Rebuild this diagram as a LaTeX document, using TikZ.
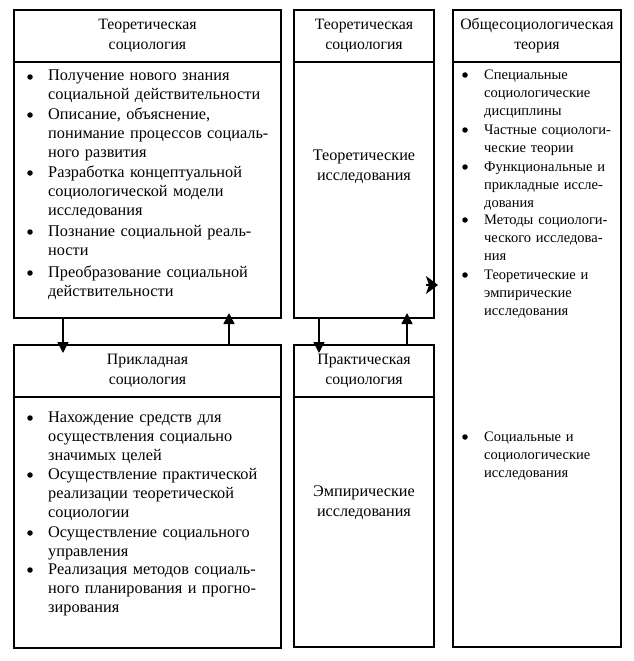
\documentclass[tikz,border=0pt]{standalone}
\usepackage{fontspec}
\setmainfont{Liberation Serif}
\usetikzlibrary{arrows.meta, positioning}

\begin{document}
\begin{tikzpicture}[x=1pt, y=-1pt,
  box/.style={draw, line width=1.5pt, inner sep=0pt, outer sep=0pt},
  head/.style={box, align=center, font=\fontsize{15.8}{20}\selectfont},
  midtext/.style={align=center, font=\fontsize{16.2}{20}\selectfont},
  item/.style={anchor=base west, inner sep=0pt, align=left, text width=300pt, font=\fontsize{16.3}{19}\selectfont},
  itemsm/.style={item, text width=200pt, font=\fontsize{14.5}{18}\selectfont},
  dot/.style={circle, fill, inner sep=0pt, minimum size=5.5pt},
  arr/.style={line width=1.5pt, -{Triangle[width=11pt,length=11pt]}},
  arrside/.style={line width=1.5pt, -{Stealth[width=18pt,length=12pt,inset=3pt]}}
]
\useasboundingbox (0,0) rectangle (634,661);

% Теоретическая социология (слева)
\node[head, minimum width=267pt, minimum height=52pt] (tsHead) at (147.5,36) {Теоретическая\\социология};
\node[box, minimum width=267pt, minimum height=256pt, below=0pt of tsHead] (tsBody) {};

\node[item] (ts1) at (48,81) {Получение нового знания\\социальной действительности};
\node[item] (ts2) at (48,119) {Описание, объяснение,\\понимание процессов социаль-\\ного развития};
\node[item] (ts3) at (48,177) {Разработка концептуальной\\социологической модели\\исследования};
\node[item] (ts4) at (48,236) {Познание социальной реаль-\\ности};
\node[item] (ts5) at (48,277) {Преобразование социальной\\действительности};
\foreach \i in {1,...,5}
  \node[dot] (ts\i dot) at ([xshift=-18pt, yshift=4pt]ts\i.base west) {};

% Прикладная социология (слева внизу)
\node[head, minimum width=267pt, minimum height=52pt] (psHead) at (147.5,371) {Прикладная\\социология};
\node[box, minimum width=267pt, minimum height=251pt, below=0pt of psHead] (psBody) {};

\node[item] (ps1) at (48,422) {Нахождение средств для\\осуществления социально\\значимых целей};
\node[item] (ps2) at (48,479) {Осуществление практической\\реализации теоретической\\социологии};
\node[item] (ps3) at (48,537) {Осуществление социального\\управления};
\node[item] (ps4) at (48,574) {Реализация методов социаль-\\ного планирования и прогно-\\зирования};
\foreach \i in {1,...,4}
  \node[dot] (ps\i dot) at ([xshift=-18pt, yshift=4pt]ps\i.base west) {};

% средний столбец
\node[head, minimum width=140pt, minimum height=52pt] (tiHead) at (364,36) {Теоретическая\\социология};
\node[box, minimum width=140pt, minimum height=256pt, below=0pt of tiHead] (tiBody) {};
\node[midtext] (tiText) at (364,167) {Теоретические\\исследования};

\node[head, minimum width=140pt, minimum height=52pt] (piHead) at (364,371) {Практическая\\социология};
\node[box, minimum width=140pt, minimum height=250pt, below=0pt of piHead] (piBody) {};
\node[midtext] (piText) at (364,503) {Эмпирические\\исследования};

% Общесоциологическая теория (справа)
\node[head, minimum width=168pt, minimum height=52pt] (osHead) at (537,36) {Общесоциологическая\\теория};
\node[box, minimum width=168pt, minimum height=585pt, below=0pt of osHead] (osBody) {};

\node[itemsm] (os1) at (484,79) {Специальные\\социологические\\дисциплины};
\node[itemsm] (os2) at (484,134) {Частные социологи-\\ческие теории};
\node[itemsm] (os3) at (484,171) {Функциональные и\\прикладные иссле-\\дования};
\node[itemsm] (os4) at (484,224) {Методы социологи-\\ческого исследова-\\ния};
\node[itemsm] (os5) at (484,279) {Теоретические и\\эмпирические\\исследования};
\node[itemsm] (os6) at (484,441) {Социальные и\\социологические\\исследования};
\foreach \i in {1,...,6}
  \node[dot] (os\i dot) at ([xshift=-19pt, yshift=4pt]os\i.base west) {};

% стрелки
\draw[arr, shorten >=-8pt] ([xshift=-84.5pt]tsBody.south) -- ([xshift=-84.5pt]psHead.north);
\draw[arr, shorten >=-5pt] ([xshift=81.5pt]psHead.north) -- ([xshift=81.5pt]tsBody.south);
\draw[arr, shorten >=-8pt] ([xshift=-45pt]tiBody.south) -- ([xshift=-45pt]piHead.north);
\draw[arr, shorten >=-5pt] ([xshift=43pt]piHead.north) -- ([xshift=43pt]tiBody.south);
\draw[arrside, shorten >=15pt] ([yshift=-95pt, xshift=-8pt]tiBody.east) -- ([yshift=69.5pt]osBody.west);
\end{tikzpicture}
\end{document}
